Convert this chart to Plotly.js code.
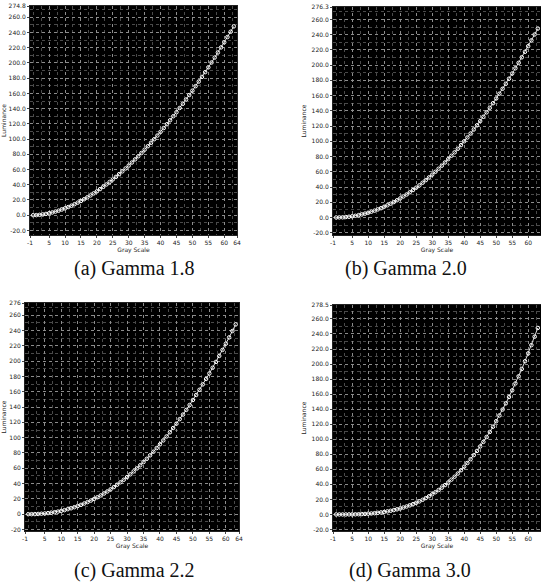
<!DOCTYPE html>
<html>
<head>
<meta charset="utf-8">
<script src="https://cdn.plot.ly/plotly-3.0.1.min.js"></script>
<style>html,body{margin:0;padding:0;background:#fff;}#chart{width:541px;height:585px;}</style>
</head>
<body>
<div id="chart"></div>
<script>
// Gray scale levels (x) shared by all four panels
const grayLevels = [0,1,2,3,4,5,6,7,8,9,10,11,12,13,14,15,16,17,18,19,20,21,22,23,24,25,26,27,28,29,30,31,32,33,34,35,36,37,38,39,40,41,42,43,44,45,46,47,48,49,50,51,52,53,54,55,56,57,58,59,60,61,62,63];

// Luminance values
const lumGamma18 = [0,0.1,0.5,1.0,1.7,2.6,3.6,4.8,6.0,7.5,9.0,10.7,12.5,14.5,16.5,18.7,21.0,23.5,26.0,28.7,31.4,34.3,37.3,40.4,43.7,47.0,50.4,54.0,57.6,61.4,65.2,69.2,73.3,77.4,81.7,86.1,90.6,95.2,99.8,104.6,109.5,114.5,119.5,124.7,130.0,135.3,140.8,146.4,152.0,157.8,163.6,169.5,175.6,181.7,187.9,194.2,200.6,207.1,213.7,220.4,227.1,234.0,241.0,248.0];
const lumGamma20 = [0,0.1,0.2,0.6,1.0,1.6,2.2,3.1,4.0,5.1,6.2,7.6,9.0,10.6,12.2,14.1,16.0,18.1,20.2,22.6,25.0,27.6,30.2,33.1,36.0,39.1,42.2,45.6,49.0,52.6,56.2,60.0,64.0,68.0,72.2,76.5,81.0,85.5,90.2,95.0,100.0,105.0,110.2,115.5,121.0,126.5,132.2,138.0,144.0,150.0,156.2,162.5,169.0,175.5,182.2,189.0,195.9,203.0,210.2,217.5,224.9,232.5,240.2,248.0];
const lumGamma22 = [0,0.0,0.1,0.3,0.6,0.9,1.4,2.0,2.6,3.4,4.3,5.3,6.5,7.7,9.1,10.6,12.2,13.9,15.8,17.8,19.9,22.1,24.5,27.0,29.7,32.5,35.4,38.5,41.7,45.0,48.5,52.1,55.9,59.8,63.9,68.1,72.4,76.9,81.6,86.4,91.3,96.4,101.6,107.0,112.6,118.3,124.2,130.2,136.3,142.7,149.2,155.8,162.6,169.6,176.7,183.9,191.4,199.0,206.8,214.7,222.8,231.0,239.4,248.0];
const lumGamma30 = [0,0.0,0.0,0.0,0.1,0.1,0.2,0.3,0.5,0.7,1.0,1.3,1.7,2.2,2.7,3.3,4.1,4.9,5.8,6.8,7.9,9.2,10.6,12.1,13.7,15.5,17.4,19.5,21.8,24.2,26.8,29.6,32.5,35.6,39.0,42.5,46.3,50.2,54.4,58.8,63.5,68.4,73.5,78.9,84.5,90.4,96.5,103.0,109.7,116.7,124.0,131.6,139.5,147.7,156.2,165.0,174.2,183.7,193.5,203.7,214.2,225.1,236.4,248.0];

// Tick labels
const xTickVals = [-1,5,10,15,20,25,30,35,40,45,50,55,60,64];
const xTickText = ['-1','5','10','15','20','25','30','35','40','45','50','55','60','64'];
const yTickValsA = [-20,0,20,40,60,80,100,120,140,160,180,200,220,240,260,274.8];
const yTickTextA = ['-20.0','0.0','20.0','40.0','60.0','80.0','100.0','120.0','140.0','160.0','180.0','200.0','220.0','240.0','260.0','274.8'];
const yTickValsB = [-20,0,20,40,60,80,100,120,140,160,180,200,220,240,260,276.3];
const yTickTextB = ['-20.0','0.0','20.0','40.0','60.0','80.0','100.0','120.0','140.0','160.0','180.0','200.0','220.0','240.0','260.0','276.3'];
const yTickValsC = [-20,0,20,40,60,80,100,120,140,160,180,200,220,240,260,276];
const yTickTextC = ['-20','0','20','40','60','80','100','120','140','160','180','200','220','240','260','276'];
const yTickValsD = [-20,0,20,40,60,80,100,120,140,160,180,200,220,240,260,278.5];
const yTickTextD = ['-20.0','0.0','20.0','40.0','60.0','80.0','100.0','120.0','140.0','160.0','180.0','200.0','220.0','240.0','260.0','278.5'];
const captions = ['(a) Gamma 1.8','(b) Gamma 2.0','(c) Gamma 2.2','(d) Gamma 3.0'];

const series = [lumGamma18, lumGamma20, lumGamma22, lumGamma30];
const axisIds = [['x','y'],['x2','y2'],['x3','y3'],['x4','y4']];

const traces = series.map((ys, i) => ({
  x: grayLevels, y: ys, xaxis: axisIds[i][0], yaxis: axisIds[i][1],
  type: 'scatter', mode: 'lines+markers', cliponaxis: false,
  line: {color: '#dddddd', width: 1},
  marker: {symbol: 'circle-open', size: 3.5, color: '#ffffff', line: {width: 1, color: '#f4f4f4'}},
  showlegend: false, hoverinfo: 'skip'
}));

const tickFont = {family: 'DejaVu Sans', size: 6, color: '#222'};
const titleFont = {family: 'DejaVu Sans', size: 6, color: '#222'};

function xAxis(domain, anchor) {
  return {
    domain: domain, anchor: anchor, range: [-1, 64],
    tickmode: 'array', tickvals: xTickVals, ticktext: xTickText,
    tickfont: tickFont, ticks: 'outside', ticklen: 2, tickcolor: '#444',
    showgrid: true, gridcolor: '#8c8c8c', griddash: 'dot', gridwidth: 1,
    minor: {dtick: 2.5, tick0: 0, showgrid: true, gridcolor: '#4a4a4a', griddash: 'dot', ticks: ''},
    zeroline: false, showline: true, linecolor: '#222', mirror: true,
    title: {text: 'Gray Scale', font: titleFont, standoff: 2},
    automargin: false, fixedrange: true
  };
}
function yAxis(domain, anchor, range, vals, text) {
  return {
    domain: domain, anchor: anchor, range: range,
    tickmode: 'array', tickvals: vals, ticktext: text,
    tickfont: tickFont, ticks: 'outside', ticklen: 2, tickcolor: '#444',
    showgrid: true, gridcolor: '#8c8c8c', griddash: 'dot', gridwidth: 1,
    minor: {tickvals: [-10,10,30,50,70,90,110,130,150,170,190,210,230,250,270], showgrid: true, gridcolor: '#4a4a4a', griddash: 'dot', ticks: ''},
    zeroline: false, showline: true, linecolor: '#222', mirror: true,
    title: {text: 'Luminance', font: titleFont, standoff: 4},
    automargin: false, fixedrange: true
  };
}

const capFont = {family: 'Liberation Serif', size: 20, color: '#111'};
const capPos = [[134, 268], [406, 268], [134, 570], [410, 570]];

const layout = {
  width: 541, height: 585,
  margin: {l: 0, r: 0, t: 0, b: 0},
  paper_bgcolor: '#ffffff', plot_bgcolor: '#000000',
  showlegend: false,
  xaxis: xAxis([30/541, 237/541], 'y'),
  yaxis: yAxis([350/585, 579/585], 'x', [-26, 274.8], yTickValsA, yTickTextA),
  xaxis2: xAxis([333/541, 1.0], 'y2'),
  yaxis2: yAxis([350/585, 578/585], 'x2', [-23, 276.3], yTickValsB, yTickTextB),
  xaxis3: xAxis([25/541, 239/541], 'y3'),
  yaxis3: yAxis([54/585, 282/585], 'x3', [-22, 276], yTickValsC, yTickTextC),
  xaxis4: xAxis([333/541, 1.0], 'y4'),
  yaxis4: yAxis([54/585, 280/585], 'x4', [-22, 278.5], yTickValsD, yTickTextD),
  annotations: captions.map((t, i) => ({
    text: t, xref: 'paper', yref: 'paper',
    x: capPos[i][0] / 541, y: (585 - capPos[i][1]) / 585,
    xanchor: 'center', yanchor: 'middle', showarrow: false, font: capFont
  }))
};

Plotly.newPlot('chart', traces, layout, {staticPlot: true, displayModeBar: false});
</script>
</body>
</html>
